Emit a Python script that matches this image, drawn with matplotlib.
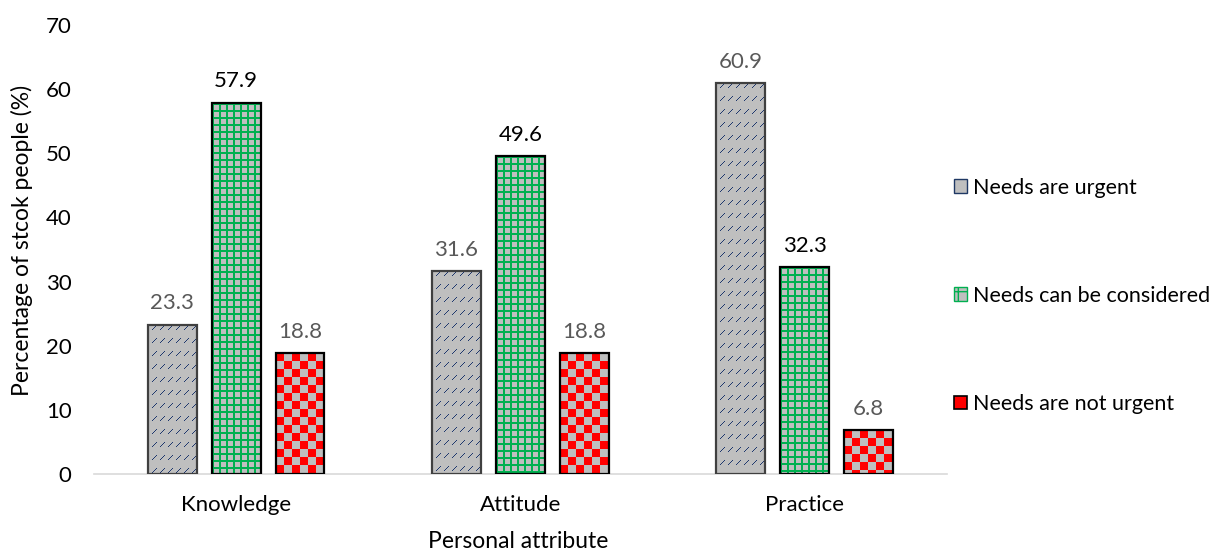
import matplotlib.pyplot as plt
import numpy as np
from matplotlib.patches import Patch

plt.rcParams['font.family'] = ['Lato', 'DejaVu Sans']

# data
atributos = ['Knowledge', 'Attitude', 'Practice']
series = ['Needs are urgent', 'Needs can be considered', 'Needs are not urgent']
urgentes = [23.3, 31.6, 60.9]
considerar = [57.9, 49.6, 32.3]
no_urgentes = [18.8, 18.8, 6.8]

GRIS = (191, 191, 191)
AZUL = (31, 56, 110)
VERDE = (0, 176, 80)
ROJO = (255, 0, 0)


def textura(tipo, h, w):
    i, j = np.mgrid[0:h, 0:w]
    img = np.zeros((h, w, 3), dtype=np.uint8)
    img[:] = GRIS
    if tipo == 'diag':
        r = i % 13
        m = (r < 5) & ((j + r) % 8 == 0)
        img[m] = AZUL
    elif tipo == 'grid':
        m = (i % 7 < 2) | (j % 7 < 2)
        img[m] = VERDE
    elif tipo == 'checker':
        m = ((i // 8) + (j // 8)) % 2 == 0
        img[m] = ROJO
    return img


fig = plt.figure(figsize=(12.2, 5.54), dpi=100)
ax = fig.add_axes([0.077, 0.1444, 0.699, 0.8105])
ax.patch.set_visible(False)
ax.set_xlim(-0.5, 2.5)
ax.set_ylim(0, 70)

x = np.arange(len(atributos))
ancho = 0.172
paso = 0.225

estilos = [
    (urgentes, 'diag', '#404040', '#595959'),
    (considerar, 'grid', '#000000', '#000000'),
    (no_urgentes, 'checker', '#000000', '#595959'),
]

for k, (vals, tipo, borde, color_txt) in enumerate(estilos):
    pos = x + (k - 1) * paso
    barras = ax.bar(pos, vals, width=ancho, color='none', edgecolor=borde,
                    linewidth=1.6, zorder=3)
    for b, v in zip(barras, vals):
        # relleno con textura en pixeles de la figura, bajo el contorno de la barra
        (px0, py0), (px1, py1) = ax.transData.transform(
            [(b.get_x(), 0), (b.get_x() + b.get_width(), v)])
        w_px = int(round(px1 - px0))
        h_px = int(round(py1 - py0))
        fig.figimage(textura(tipo, h_px, w_px), xo=int(round(px0)),
                     yo=int(round(py0)), origin='upper', zorder=-1)
        ax.annotate(f'{v:.1f}', (b.get_x() + b.get_width() / 2, v),
                    xytext=(0, 8), textcoords='offset points',
                    ha='center', va='bottom', fontsize=16, color=color_txt)

ax.set_yticks(range(0, 71, 10))
ax.set_xticks(x)
ax.set_xticklabels(atributos)
ax.tick_params(axis='both', length=0, labelsize=16, colors='#000000')
ax.tick_params(axis='y', pad=16)
ax.tick_params(axis='x', pad=15)
for s in ['top', 'right', 'left']:
    ax.spines[s].set_visible(False)
ax.spines['bottom'].set_color('#D9D9D9')
ax.spines['bottom'].set_linewidth(1.2)

ax.set_ylabel('Percentage of stcok people (%)', fontsize=16.5)
ax.yaxis.set_label_coords(-0.072, 0.52)
ax.set_xlabel('Personal attribute', fontsize=16.5)
ax.xaxis.set_label_coords(0.497, -0.128)

manijas = [
    Patch(facecolor='#BFBFBF', edgecolor='#1F3864', linewidth=1.0),
    Patch(facecolor='#BFBFBF', edgecolor='#00B050', hatch='+', linewidth=1.0),
    Patch(facecolor='#FF0000', edgecolor='#000000', linewidth=1.2),
]
fig.legend(manijas, series, loc='center left', bbox_to_anchor=(0.766, 0.466),
           frameon=False, fontsize=15.5, labelspacing=4.1, handlelength=0.6,
           handleheight=0.6, handletextpad=0.3)

plt.savefig('out.png', dpi=100)
